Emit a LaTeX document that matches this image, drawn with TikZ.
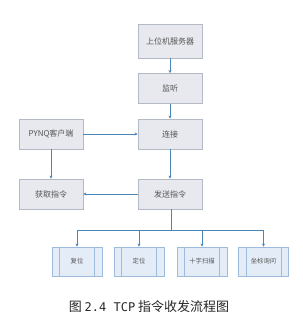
\documentclass[tikz,border=0pt]{standalone}
\usepackage{fontspec}
\newfontfamily\cjk{Noto Sans CJK SC}
\newfontfamily\capmono{DejaVu Sans Mono}
\usetikzlibrary{arrows.meta}
\definecolor{boxfill}{HTML}{E8E9EE}
\definecolor{boxline}{HTML}{B4B9C6}
\definecolor{pfill}{HTML}{E3ECF7}
\definecolor{pline}{HTML}{9DBCDD}
\definecolor{arr}{HTML}{4A86B8}
\definecolor{txt}{HTML}{555555}
\tikzset{
  gbox/.style={draw=boxline, fill=boxfill, line width=0.8pt, minimum width=64pt, minimum height=30pt, inner sep=0pt, text=txt, font=\cjk\fontsize{8}{9}\selectfont},
  pbox/.style={draw=pline, fill=pfill, line width=0.8pt, minimum width=50pt, minimum height=29pt, inner sep=0pt, text=txt, font=\cjk\fontsize{6.3}{7}\selectfont},
  conn/.style={draw=arr, line width=0.7pt, -{Stealth[length=3pt,width=3pt]}},
  bus/.style={draw=arr, line width=0.7pt}
}
\begin{document}
\begin{tikzpicture}[x=1pt,y=-1pt]
\useasboundingbox (0,0) rectangle (302,328);
\node[gbox, minimum height=34pt] (srv) at (170,41) {上位机服务器};
\node[gbox] (listen) at (170,88.5) {监听};
\node[gbox] (conn) at (170,134) {连接};
\node[gbox] (pynq) at (51,134) {PYNQ客户端};
\node[gbox] (get) at (51,194) {获取指令};
\node[gbox] (send) at (170,194) {发送指令};
\foreach \n/\x/\t in {p1/77/复位, p2/139/定位, p3/202/十字扫描, p4/263.5/坐标询问}{
  \node[pbox] (\n) at (\x,261.5) {\t};
  \draw[pline, line width=0.8pt] ([xshift=8pt]\n.north west) -- ([xshift=8pt]\n.south west);
  \draw[pline, line width=0.8pt] ([xshift=-8pt]\n.north east) -- ([xshift=-8pt]\n.south east);
}
\draw[conn] (srv) -- (listen);
\draw[conn] (listen) -- (conn);
\draw[conn] (pynq) -- (conn);
\draw[conn] (conn) -- (send);
\draw[conn] (pynq) -- (get);
\draw[conn] (send) -- (get);
\coordinate (j) at (171,230);
\draw[bus] (send.south -| j) -- (j);
\draw[bus] (p1.north |- j) -- (p4.north |- j);
\foreach \n in {p1,p2,p3,p4}{
  \draw[conn] (\n.north |- j) -- (\n.north);
}
\node[font=\cjk\fontsize{13}{15}\selectfont, text=black!85] (cap) at (149,307) {图 {\capmono\fontsize{12}{15}\selectfont 2.4 TCP} 指令收发流程图};
\end{tikzpicture}
\end{document}
